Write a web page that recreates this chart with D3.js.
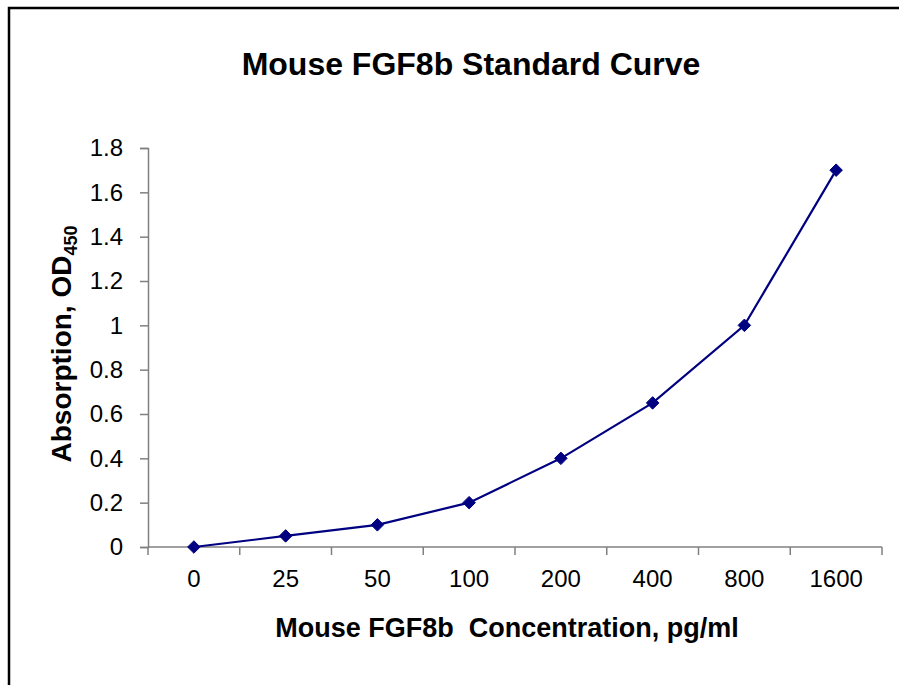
<!DOCTYPE html>
<html><head><meta charset="utf-8">
<script src="https://cdn.jsdelivr.net/npm/d3@7"></script>
<style>html,body{margin:0;padding:0;background:#fff;}svg{display:block;font-family:"Liberation Sans",Arial,sans-serif;}</style>
</head><body>
<script>
const categories = ["0","25","50","100","200","400","800","1600"];
const values = [0, 0.05, 0.1, 0.2, 0.4, 0.65, 1.0, 1.7];
const yTicks = [0,0.2,0.4,0.6,0.8,1,1.2,1.4,1.6,1.8];

(function(){
const W = 899, H = 685;
const svg = d3.select("body").append("svg").attr("width", W).attr("height", H);
svg.append("rect").attr("x", 9).attr("y", 8).attr("width", W + 10).attr("height", H + 10)
  .attr("fill", "none").attr("stroke", "#000").attr("stroke-width", 2.5);

const pl = 148, pr = 882, pt = 148, pb = 547;
const x = d3.scaleBand().domain(categories).range([pl, pr]).padding(0);
const y = d3.scaleLinear().domain([0, 1.8]).range([pb, pt]);

// y axis
const ya = svg.append("g").attr("transform", `translate(${pl},0)`)
  .call(d3.axisLeft(y).tickValues(yTicks).tickSize(8).tickPadding(17).tickFormat(d => d3.format("")(d)));
ya.select(".domain").attr("stroke", "#808080").attr("stroke-width", 1.5);
ya.selectAll(".tick line").attr("stroke", "#808080").attr("stroke-width", 1.5);
ya.selectAll(".tick text").attr("font-size", 24).attr("fill", "#000")
  .attr("font-family", "'Liberation Sans',Arial,sans-serif");

// x axis
const xa = svg.append("g").attr("transform", `translate(0,${pb})`)
  .call(d3.axisBottom(x).tickSize(0).tickPadding(23));
xa.select(".domain").remove();
xa.append("line").attr("x1", pl).attr("x2", pr).attr("y1", 0).attr("y2", 0)
  .attr("stroke", "#808080").attr("stroke-width", 1.5);
const bounds = categories.map(c => x(c)).concat([pr]);
xa.selectAll(".bt").data(bounds).enter().append("line")
  .attr("x1", d => d).attr("x2", d => d).attr("y1", 0).attr("y2", 8)
  .attr("stroke", "#808080").attr("stroke-width", 1.5);
xa.selectAll(".tick text").attr("font-size", 24).attr("fill", "#000")
  .attr("font-family", "'Liberation Sans',Arial,sans-serif");

// line
const cx = c => x(c) + x.bandwidth() / 2;
svg.append("path").datum(values)
  .attr("fill", "none").attr("stroke", "#000080").attr("stroke-width", 2.2)
  .attr("d", d3.line().x((d, i) => cx(categories[i])).y(d => y(d)));
svg.selectAll(".pt").data(values).enter().append("path")
  .attr("transform", (d, i) => `translate(${cx(categories[i])},${y(d)})`)
  .attr("d", d3.symbol().type(d3.symbolDiamond2).size(100))
  .attr("fill", "#000080").attr("stroke", "#000080").attr("stroke-width", 1);

// titles
svg.append("text").attr("x", 471).attr("y", 75).attr("text-anchor", "middle")
  .attr("font-size", 32).attr("font-weight", "bold").text("Mouse FGF8b Standard Curve");
svg.append("text").attr("x", 507).attr("y", 637).attr("text-anchor", "middle")
  .attr("font-size", 27).attr("font-weight", "bold").attr("xml:space", "preserve")
  .text("Mouse FGF8b  Concentration, pg/ml");
const yt = svg.append("text").attr("transform", "translate(71,344) rotate(-90)")
  .attr("text-anchor", "middle").attr("font-size", 28).attr("font-weight", "bold");
yt.append("tspan").text("Absorption, OD");
yt.append("tspan").attr("font-size", 18).attr("dy", 6).text("450");
})();
</script>
</body></html>
